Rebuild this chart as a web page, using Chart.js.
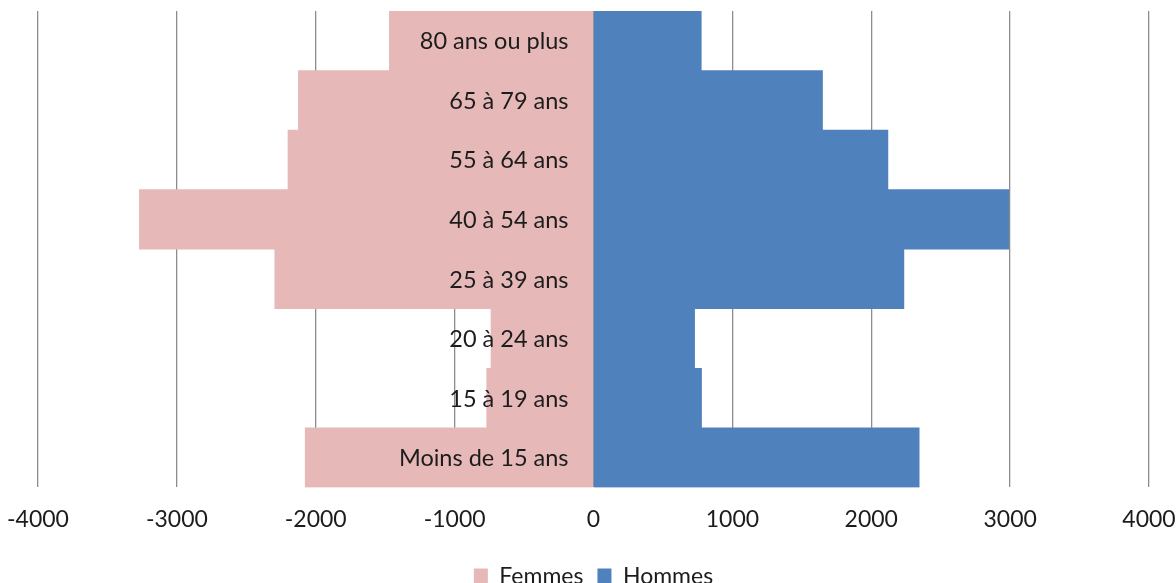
<!DOCTYPE html>
<html>
<head>
<meta charset="utf-8">
<script src="https://cdn.jsdelivr.net/npm/chart.js@4/dist/chart.umd.min.js"></script>
<style>
  html, body { margin: 0; padding: 0; background: #fff; }
  #wrap { width: 1176px; height: 583px; }
</style>
</head>
<body>
<div id="wrap"><canvas id="myChart" width="1176" height="583"></canvas></div>
<script>
// age groups, top to bottom
const ageGroups = ['80 ans ou plus', '65 à 79 ans', '55 à 64 ans', '40 à 54 ans',
                   '25 à 39 ans', '20 à 24 ans', '15 à 19 ans', 'Moins de 15 ans'];
const femmes = [-1470, -2125, -2200, -3270, -2295, -738, -769, -2076];
const hommes = [776, 1649, 2120, 2990, 2235, 728, 778, 2345];
const xTicks = [-4000, -3000, -2000, -1000, 0, 1000, 2000, 3000, 4000];

// labels of the age groups, written just left of the zero line
const ageLabels = {
    id: 'ageLabels',
    afterDatasetsDraw(chart) {
        const ctx = chart.ctx;
        const x = chart.scales.x.getPixelForValue(0) - 25;
        ctx.save();
        ctx.font = '23.5px Lato';
        ctx.fillStyle = '#1c1c1c';
        ctx.textAlign = 'right';
        ctx.textBaseline = 'middle';
        for (let i = 0; i < ageGroups.length; i++) {
            ctx.fillText(ageGroups[i], x, chart.scales.y.getPixelForValue(i) + 1);
        }
        ctx.restore();
    }
};

const ctx = document.getElementById('myChart').getContext('2d');
const myChart = new Chart(ctx, {
    type: 'bar',
    data: {
        labels: ageGroups,
        datasets: [{
            label: 'Femmes',
            data: femmes,
            backgroundColor: '#e6b9b8',
            borderWidth: 0,
            barPercentage: 1,
            categoryPercentage: 1
        }, {
            label: 'Hommes',
            data: hommes,
            backgroundColor: '#4f81bd',
            borderWidth: 0,
            barPercentage: 1,
            categoryPercentage: 1
        }]
    },
    options: {
        indexAxis: 'y',
        responsive: false,
        animation: false,
        layout: { padding: { left: 38, right: 27, top: 11, bottom: -15 } },
        scales: {
            x: {
                stacked: true,
                min: -4000,
                max: 4000,
                afterBuildTicks(scale) {
                    scale.ticks = xTicks.map(v => ({ value: v }));
                },
                afterFit(scale) {
                    scale.paddingLeft = 0;
                    scale.paddingRight = 0;
                },
                grid: { color: '#8c8c8c', lineWidth: 1.3, drawTicks: false },
                border: { display: false },
                ticks: {
                    padding: 18,
                    color: '#1c1c1c',
                    font: { family: 'Lato', size: 23 },
                    maxRotation: 0,
                    callback: v => String(v)
                }
            },
            y: {
                stacked: true,
                display: false
            }
        },
        plugins: {
            legend: {
                position: 'bottom',
                labels: {
                    boxWidth: 14,
                    boxHeight: 16,
                    padding: 14,
                    color: '#1c1c1c',
                    font: { family: 'Lato', size: 23 }
                }
            },
            tooltip: { enabled: false }
        }
    },
    plugins: [ageLabels]
});
</script>
</body>
</html>
